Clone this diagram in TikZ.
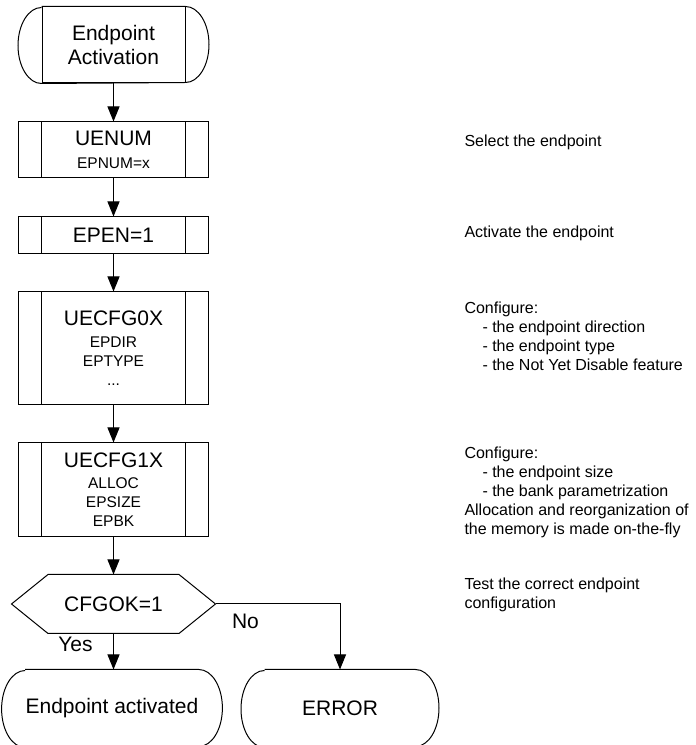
\documentclass[tikz,border=0pt]{standalone}
\usepackage{fontspec}
\setmainfont{Liberation Sans}
\usetikzlibrary{arrows.meta,calc,positioning}

\newcommand{\bigtxt}{\fontsize{21}{24}\selectfont}
\newcommand{\subtxt}{\fontsize{15.5}{19}\selectfont}
\newcommand{\notetxt}{\fontsize{16}{19}\selectfont}

\begin{document}
\begin{tikzpicture}[x=1pt,y=1pt,>={Triangle[length=15pt,width=12pt]},line width=1pt,
  procbox/.style={draw,minimum width=190pt,inner sep=0pt,align=center,font=\subtxt},
  termbox/.style={minimum height=76pt,inner sep=0pt,align=center,font=\bigtxt},
  notetext/.style={anchor=west,inner sep=0pt,align=left,font=\notetxt}]
\useasboundingbox (0,0) rectangle (696,745);

% flow
\node[termbox,draw,minimum width=143pt] (start) at (113.5,700) {Endpoint\\Activation};
\node[procbox,minimum height=56pt] (uenum) at (113.5,595) {{\bigtxt UENUM}\\[4pt]EPNUM=x};
\node[procbox,minimum height=37pt,font=\bigtxt] (epen) at (113.5,509.5) {EPEN=1};
\node[procbox,minimum height=113pt] (cfgA) at (113.5,396.5) {{\bigtxt UECFG0X}\\[3pt]EPDIR\\EPTYPE\\...};
\node[procbox,minimum height=94pt] (cfgB) at (113.5,255) {{\bigtxt UECFG1X}\\[2pt]ALLOC\\EPSIZE\\EPBK};
\node[minimum width=130pt,minimum height=58pt,inner sep=0pt,font=\bigtxt] (test) at (113.5,141) {CFGOK=1};
\node[termbox,minimum width=136pt,minimum height=77pt] (done) at (112,36.5) {Endpoint activated};
\node[termbox,minimum width=150pt,minimum height=77pt] (fail) at (340,36.5) {ERROR};

\foreach \n in {uenum,epen,cfgA,cfgB}{
  \draw ([xshift=23.5pt]\n.north west) -- ([xshift=23.5pt]\n.south west);
  \draw ([xshift=-23.5pt]\n.north east) -- ([xshift=-23.5pt]\n.south east);
}
\foreach \n/\ry in {start/38,done/38.5,fail/38.5}
  \draw (\n.north west) -- (\n.north east) arc[start angle=90,end angle=-90,x radius=23.5pt,y radius=\ry pt]
    -- (\n.south west) arc[start angle=270,end angle=90,x radius=23.5pt,y radius=\ry pt];

\coordinate (testL) at ([xshift=-36.5pt]test.west);
\coordinate (testR) at ([xshift=36.5pt]test.east);
\draw (test.north west) -- (test.north east) -- (testR) -- (test.south east)
  -- (test.south west) -- (testL) -- cycle;

\draw[->] (start) -- (uenum);
\draw[->] (uenum) -- (epen);
\draw[->] (epen) -- (cfgA);
\draw[->] (cfgA) -- (cfgB);
\draw[->] (cfgB) -- (test);
\draw[->] (test.south) -- (test.south |- done.north);
\draw[->] (testR) -| (fail.north);

\node[font=\bigtxt,inner sep=0pt] (yes) at (75.5,101) {Yes};
\node[font=\bigtxt,inner sep=0pt] (no) at (245.5,124) {No};

% notes
\node[notetext] (selNote) at (464,603) {Select the endpoint};
\node[notetext] (actNote) at (464,512) {Activate the endpoint};
\node[notetext] (cfgANote) at (464,408.5) {Configure:\\\hspace*{18pt}- the endpoint direction\\\hspace*{18pt}- the endpoint type\\\hspace*{18pt}- the Not Yet Disable feature};
\node[notetext] (cfgBNote) at (464,253) {Configure:\\\hspace*{18pt}- the endpoint size\\\hspace*{18pt}- the bank parametrization\\Allocation and reorganization of\\the memory is made on-the-fly};
\node[notetext] (testNote) at (464,150) {Test the correct endpoint\\configuration};
\end{tikzpicture}
\end{document}
